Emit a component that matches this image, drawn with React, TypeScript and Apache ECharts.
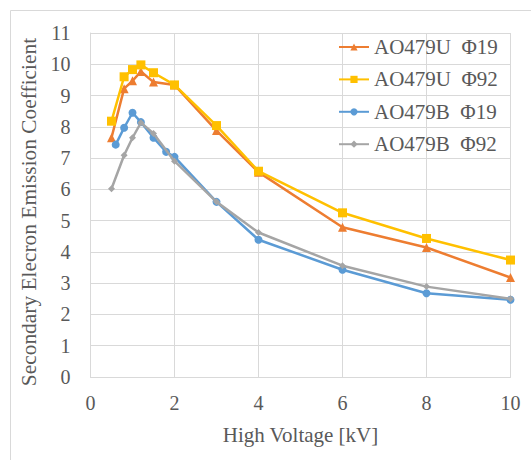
import React, { useEffect, useRef } from "react";
import * as echarts from "echarts";

const seriesNames = ["AO479U  Φ19", "AO479U  Φ92", "AO479B  Φ19", "AO479B  Φ92"];
const u19X = [0.5, 0.8, 1.0, 1.2, 1.5, 2, 3, 4, 6, 8, 10];
const u19Y = [7.65, 9.22, 9.47, 9.77, 9.43, 9.34, 7.88, 6.55, 4.79, 4.14, 3.18];
const u92X = [0.5, 0.8, 1.0, 1.2, 1.5, 2, 3, 4, 6, 8, 10];
const u92Y = [8.18, 9.6, 9.83, 9.98, 9.73, 9.34, 8.04, 6.58, 5.25, 4.43, 3.74];
const b19X = [0.6, 0.8, 1.0, 1.2, 1.5, 1.8, 2, 3, 4, 6, 8, 10];
const b19Y = [7.43, 7.97, 8.45, 8.15, 7.65, 7.2, 7.04, 5.6, 4.39, 3.43, 2.68, 2.47];
const b92X = [0.5, 0.8, 1.0, 1.2, 1.5, 2, 3, 4, 6, 8, 10];
const b92Y = [6.02, 7.09, 7.65, 8.13, 7.79, 6.9, 5.6, 4.62, 3.56, 2.89, 2.5];

const colors = ["#ED7D31", "#FFC000", "#5B9BD5", "#A5A5A5"];
const symbols = ["triangle", "rect", "circle", "diamond"];
const symbolSizes = [9, 9, 8, 7];

const FONT = "'Liberation Serif', 'Times New Roman', serif";

export default function App() {
  const ref = useRef<HTMLDivElement>(null);
  useEffect(() => {
    if (!ref.current) return;
    const chart = echarts.init(ref.current, undefined, { renderer: "svg" });
    const xs = [u19X, u92X, b19X, b92X];
    const ys = [u19Y, u92Y, b19Y, b92Y];
    chart.setOption({
      animation: false,
      backgroundColor: "#ffffff",
      textStyle: { fontFamily: FONT },
      grid: { left: 90.5, right: 20.5, top: 33, bottom: 83, containLabel: false },
      legend: {
        orient: "vertical",
        left: 333,
        top: 31,
        padding: 5,
        itemWidth: 30,
        itemHeight: 9,
        itemGap: 10.4,
        textStyle: { fontFamily: FONT, fontSize: 21, color: "#595959", lineHeight: 22 },
        data: seriesNames,
      },
      graphic: [
        {
          type: "rect",
          shape: { x: 10.5, y: 10.5, width: 600, height: 600 },
          style: { fill: "none", stroke: "#D9D9D9", lineWidth: 1 },
          silent: true,
        },
      ],
      xAxis: {
        type: "value",
        min: 0,
        max: 10,
        interval: 2,
        name: "High Voltage [kV]",
        nameLocation: "middle",
        nameGap: 47,
        nameTextStyle: { fontFamily: FONT, fontSize: 21, color: "#595959" },
        axisLine: { show: true, lineStyle: { color: "#D9D9D9", width: 1 } },
        axisTick: { show: false },
        axisLabel: { fontFamily: FONT, fontSize: 20, color: "#595959", margin: 16 },
        splitLine: { show: true, lineStyle: { color: "#D9D9D9", width: 1 } },
      },
      yAxis: {
        type: "value",
        min: 0,
        max: 11,
        interval: 1,
        name: "Secondary Elecron Emission Coefficient",
        nameLocation: "middle",
        nameGap: 42,
        nameTextStyle: {
          fontFamily: FONT,
          fontSize: 21.4,
          color: "#595959",
          padding: [0, 14, 0, 0],
        },
        axisLine: { show: true, lineStyle: { color: "#D9D9D9", width: 1 } },
        axisTick: { show: false },
        axisLabel: { fontFamily: FONT, fontSize: 20, color: "#595959", margin: 20 },
        splitLine: { show: true, lineStyle: { color: "#D9D9D9", width: 1 } },
      },
      series: seriesNames.map((name, i) => ({
        name,
        type: "line",
        data: xs[i].map((x, j) => [x, ys[i][j]]),
        symbol: symbols[i],
        symbolSize: symbolSizes[i],
        showAllSymbol: true,
        lineStyle: { color: colors[i], width: 2.5 },
        itemStyle: { color: colors[i] },
        z: 2 + i,
      })),
    });
    return () => chart.dispose();
  }, []);
  return (
    <div
      ref={ref}
      style={{ position: "fixed", left: 0, top: 0, width: 531, height: 460, background: "#fff" }}
    />
  );
}
